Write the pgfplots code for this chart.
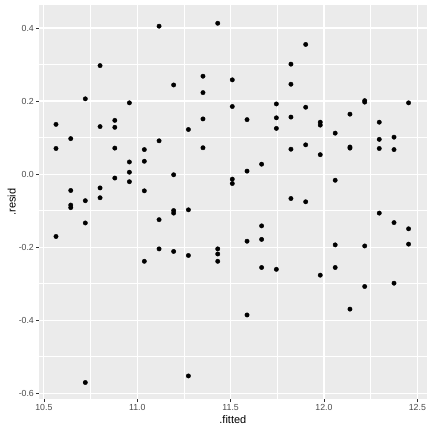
\documentclass[border=0pt]{standalone}
\usepackage{pgfplots}
\pgfplotsset{compat=1.18}
\usepackage{fontspec}
\setmainfont{Liberation Sans}
\definecolor{panelbg}{HTML}{EBEBEB}
\definecolor{ticklab}{HTML}{4D4D4D}
\definecolor{tickcol}{HTML}{333333}
\begin{document}
\begin{tikzpicture}[x=1bp,y=1bp]
\path[use as bounding box, fill=white] (0,0) rectangle (432,432);
\begin{axis}[
  at={(39bp,32.7bp)}, anchor=south west,
  scale only axis, width=387.7bp, height=394.3bp,
  xmin=10.474, xmax=12.55, ymin=-0.617, ymax=0.463,
  axis background/.style={fill=panelbg},
  axis line style={draw=none},
  xtick={10.5,11,11.5,12,12.5},
  xticklabels={10.5,11.0,11.5,12.0,12.5},
  ytick={-0.6,-0.4,-0.2,0,0.2,0.4},
  yticklabels={-0.6,-0.4,-0.2,0.0,0.2,0.4},
  minor xtick={10.75,11.25,11.75,12.25},
  minor ytick={-0.5,-0.3,-0.1,0.1,0.3},
  grid=both,
  major grid style={white, line width=1.07pt},
  minor grid style={white, line width=0.53pt},
  xtick pos=bottom, ytick pos=left,
  tick align=outside,
  major tick length=2.75pt, minor tick length=0pt,
  tick style={tickcol, line width=0.53pt},
  xticklabel style={font=\fontsize{8.8}{10}\selectfont, text=ticklab, inner sep=0pt, anchor=north, yshift=-2.2pt},
  yticklabel style={font=\fontsize{8.8}{10}\selectfont, text=ticklab, inner sep=0pt, anchor=east, xshift=-2.2pt},
  xlabel={.fitted}, ylabel={.resid},
  every axis x label/.style={font=\fontsize{11}{13}\selectfont, at={(axis description cs:0.5,-0.0626)}, anchor=base, inner sep=0pt},
  every axis y label/.style={font=\fontsize{11}{13}\selectfont, at={(axis description cs:-0.0606,0.5)}, rotate=90, anchor=base, inner sep=0pt},
  clip=false,
]
\addplot[only marks, mark=*, mark size=2.2pt, black] coordinates {
(10.565,0.136) (10.565,0.070) (10.565,-0.171)
(10.644,0.097) (10.644,-0.045) (10.644,-0.085) (10.644,-0.092)
(10.722,0.206) (10.722,-0.073) (10.722,-0.134) (10.722,-0.571)
(10.801,0.297) (10.801,0.130) (10.801,-0.038) (10.801,-0.065)
(10.880,0.147) (10.880,0.128) (10.880,0.071) (10.880,-0.011)
(10.958,0.195) (10.958,0.033) (10.958,0.005) (10.958,-0.021)
(11.038,0.067) (11.038,0.035) (11.038,-0.046) (11.038,-0.239)
(11.117,0.405) (11.117,0.091) (11.117,-0.125) (11.117,-0.205)
(11.195,0.244) (11.195,-0.002) (11.195,-0.100) (11.195,-0.107) (11.195,-0.212)
(11.274,0.122) (11.274,-0.098) (11.274,-0.223) (11.274,-0.553)
(11.352,0.268) (11.352,0.223) (11.352,0.151) (11.352,0.072)
(11.431,0.413) (11.431,-0.205) (11.431,-0.219) (11.431,-0.239)
(11.509,0.258) (11.509,0.185) (11.509,-0.014) (11.509,-0.026)
(11.588,0.149) (11.588,0.008) (11.588,-0.184) (11.588,-0.386)
(11.666,0.027) (11.666,-0.142) (11.666,-0.179) (11.666,-0.256)
(11.745,0.192) (11.745,0.154) (11.745,0.125) (11.745,-0.261)
(11.823,0.301) (11.823,0.246) (11.823,0.156) (11.823,0.068) (11.823,-0.067)
(11.902,0.355) (11.902,0.183) (11.902,0.080) (11.902,-0.076)
(11.980,0.142) (11.980,0.134) (11.980,0.053) (11.980,-0.277)
(12.060,0.112) (12.060,-0.017) (12.060,-0.194) (12.060,-0.256)
(12.139,0.164) (12.139,0.074) (12.139,0.071) (12.139,-0.370)
(12.218,0.201) (12.218,0.197) (12.218,-0.197) (12.218,-0.308)
(12.296,0.142) (12.296,0.095) (12.296,0.070) (12.296,-0.107)
(12.375,0.101) (12.375,0.067) (12.375,-0.133) (12.375,-0.299)
(12.453,0.195) (12.453,-0.150) (12.453,-0.192)
};
\end{axis}
\end{tikzpicture}
\end{document}
